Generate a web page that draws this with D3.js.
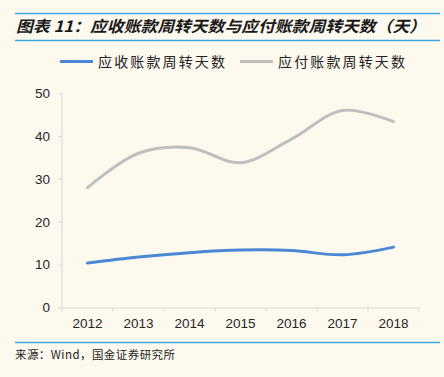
<!DOCTYPE html>
<html><head><meta charset="utf-8">
<script src="https://cdn.jsdelivr.net/npm/d3@7"></script>
<style>
html,body{margin:0;padding:0;background:#FDF9EF;}
svg{display:block;}
</style></head>
<body>
<svg id="c" width="444" height="377"></svg>
<script>
const years = ["2012","2013","2014","2015","2016","2017","2018"];
const receivableDays = [10.4, 11.8, 12.8, 13.4, 13.3, 12.3, 14.1];
const payableDays = [28.0, 36.0, 37.3, 33.8, 39.3, 46.0, 43.4];
const yTicks = [0, 10, 20, 30, 40, 50];
const seriesNames = ["应收账款周转天数", "应付账款周转天数"];
const seriesColors = ["#4A88D6", "#BFBFBF"];
const titleText = "图表 11：应收账款周转天数与应付账款周转天数（天）";
const sourceText = "来源：Wind，国金证券研究所";

const svg = d3.select("#c");
const cjk = "'Noto Sans CJK SC', 'Noto Sans', sans-serif";

// header lines
svg.append("line").attr("x1",15).attr("x2",440).attr("y1",13.5).attr("y2",13.5).attr("stroke","#3AA8E2").attr("stroke-width",1.5);
svg.append("line").attr("x1",15).attr("x2",440).attr("y1",40.5).attr("y2",40.5).attr("stroke","#3AA8E2").attr("stroke-width",1.5);
svg.append("text").attr("x",16).attr("y",32).text(titleText)
  .attr("font-family",cjk).attr("font-size",15.5).attr("font-weight","bold").attr("font-style","italic")
  .attr("fill","#1a1a1a").attr("textLength",410).attr("lengthAdjust","spacingAndGlyphs");

// footer
svg.append("line").attr("x1",15).attr("x2",440).attr("y1",342.5).attr("y2",342.5).attr("stroke","#3AA8E2").attr("stroke-width",1.5);
svg.append("text").attr("x",15).attr("y",359).text(sourceText)
  .attr("font-family",cjk).attr("font-size",11.5).attr("fill","#222")
  .attr("textLength",160).attr("lengthAdjust","spacing");

const x = d3.scaleBand().domain(years).range([62,419]);
const y = d3.scaleLinear().domain([0,50]).range([307.5,93.3]);

const gx = svg.append("g").attr("transform","translate(0,307.5)")
  .call(d3.axisBottom(x).tickSize(0).tickPadding(11));
gx.select(".domain").attr("stroke","#D9D9D9");
// band-edge ticks
gx.selectAll(".edge").data(years.concat(["end"])).enter().append("line")
  .attr("x1",(d,i)=>62+i*x.bandwidth()).attr("x2",(d,i)=>62+i*x.bandwidth())
  .attr("y1",0).attr("y2",4).attr("stroke","#D9D9D9");
gx.selectAll("text").attr("font-family","'Liberation Sans', Arial, sans-serif").attr("font-size",13.5).attr("fill","#262626");

const gy = svg.append("g").attr("transform","translate(62,0)")
  .call(d3.axisLeft(y).tickValues(yTicks).tickSize(4).tickPadding(8));
gy.select(".domain").attr("stroke","#D9D9D9").attr("d","M0,93.3V307.5");
gy.selectAll(".tick line").attr("stroke","#D9D9D9");
gy.selectAll("text").attr("font-family","'Liberation Sans', Arial, sans-serif").attr("font-size",13.5).attr("fill","#262626");

const line = d3.line().x((d,i)=>x(years[i])+x.bandwidth()/2).y(d=>y(d)).curve(d3.curveCatmullRom.alpha(0.5));
[payableDays, receivableDays].forEach((arr,k)=>{
  svg.append("path").attr("d",line(arr)).attr("fill","none")
    .attr("stroke", k===0?seriesColors[1]:seriesColors[0]).attr("stroke-width",3).attr("stroke-linecap","round");
});

// legend
const legX = [60, 240];
seriesNames.forEach((n,i)=>{
  svg.append("line").attr("x1",legX[i]).attr("x2",legX[i]+33).attr("y1",61.5).attr("y2",61.5)
    .attr("stroke",seriesColors[i]).attr("stroke-width",3);
  svg.append("text").attr("x",legX[i]+38).attr("y",67).text(n)
    .attr("font-family",cjk).attr("font-size",14).attr("fill","#222")
    .attr("textLength",127).attr("lengthAdjust","spacing");
});
</script>
</body></html>
